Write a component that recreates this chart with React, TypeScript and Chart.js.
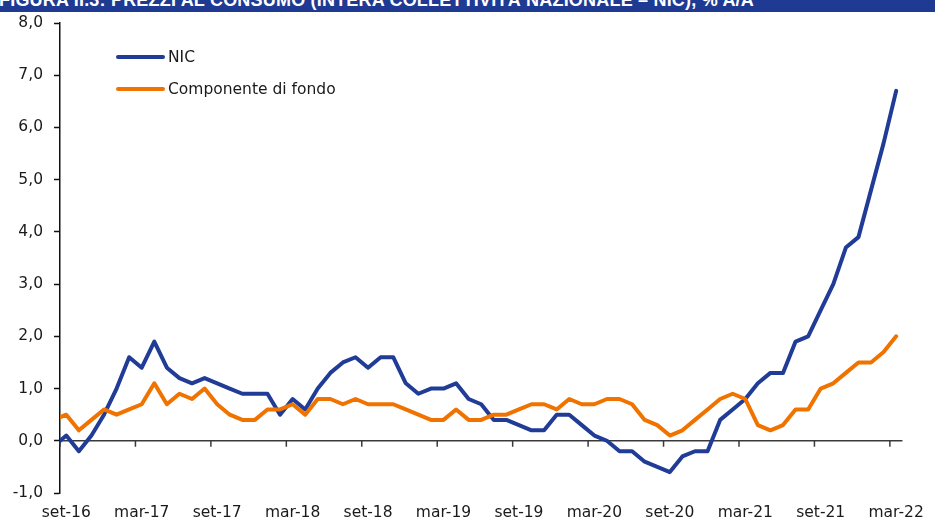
import React, { useEffect, useRef } from 'react';
import { Chart, registerables } from 'chart.js';

Chart.register(...registerables);

const titleText = 'FIGURA II.3: PREZZI AL CONSUMO (INTERA COLLETTIVITÀ NAZIONALE – NIC), % A/A';

const months = [
  'ago-16', 'set-16', 'ott-16', 'nov-16', 'dic-16',
  'gen-17', 'feb-17', 'mar-17', 'apr-17', 'mag-17', 'giu-17', 'lug-17', 'ago-17', 'set-17', 'ott-17', 'nov-17', 'dic-17',
  'gen-18', 'feb-18', 'mar-18', 'apr-18', 'mag-18', 'giu-18', 'lug-18', 'ago-18', 'set-18', 'ott-18', 'nov-18', 'dic-18',
  'gen-19', 'feb-19', 'mar-19', 'apr-19', 'mag-19', 'giu-19', 'lug-19', 'ago-19', 'set-19', 'ott-19', 'nov-19', 'dic-19',
  'gen-20', 'feb-20', 'mar-20', 'apr-20', 'mag-20', 'giu-20', 'lug-20', 'ago-20', 'set-20', 'ott-20', 'nov-20', 'dic-20',
  'gen-21', 'feb-21', 'mar-21', 'apr-21', 'mag-21', 'giu-21', 'lug-21', 'ago-21', 'set-21', 'ott-21', 'nov-21', 'dic-21',
  'gen-22', 'feb-22', 'mar-22',
];

const xTickLabels = [
  'set-16', 'mar-17', 'set-17', 'mar-18', 'set-18', 'mar-19',
  'set-19', 'mar-20', 'set-20', 'mar-21', 'set-21', 'mar-22',
];

const yTickValues = [-1, 0, 1, 2, 3, 4, 5, 6, 7, 8];

const seriesNames = ['NIC', 'Componente di fondo'];

const nicValues = [
  -0.1, 0.1, -0.2, 0.1, 0.5,
  1.0, 1.6, 1.4, 1.9, 1.4, 1.2, 1.1, 1.2, 1.1, 1.0, 0.9, 0.9,
  0.9, 0.5, 0.8, 0.6, 1.0, 1.3, 1.5, 1.6, 1.4, 1.6, 1.6, 1.1,
  0.9, 1.0, 1.0, 1.1, 0.8, 0.7, 0.4, 0.4, 0.3, 0.2, 0.2, 0.5,
  0.5, 0.3, 0.1, 0.0, -0.2, -0.2, -0.4, -0.5, -0.6, -0.3, -0.2, -0.2,
  0.4, 0.6, 0.8, 1.1, 1.3, 1.3, 1.9, 2.0, 2.5, 3.0, 3.7, 3.9,
  4.8, 5.7, 6.7,
];

const coreValues = [
  0.4, 0.5, 0.2, 0.4, 0.6,
  0.5, 0.6, 0.7, 1.1, 0.7, 0.9, 0.8, 1.0, 0.7, 0.5, 0.4, 0.4,
  0.6, 0.6, 0.7, 0.5, 0.8, 0.8, 0.7, 0.8, 0.7, 0.7, 0.7, 0.6,
  0.5, 0.4, 0.4, 0.6, 0.4, 0.4, 0.5, 0.5, 0.6, 0.7, 0.7, 0.6,
  0.8, 0.7, 0.7, 0.8, 0.8, 0.7, 0.4, 0.3, 0.1, 0.2, 0.4, 0.6,
  0.8, 0.9, 0.8, 0.3, 0.2, 0.3, 0.6, 0.6, 1.0, 1.1, 1.3, 1.5,
  1.5, 1.7, 2.0,
];

const BLUE = '#203C97';
const ORANGE = '#F07300';
const NAVY = '#1F3A93';
const TEXT = '#1a1a1a';
const FONT_FAMILY = '"DejaVu Sans", sans-serif';
const FONT_SIZE = 15.5;

const zeroAxisPlugin = {
  id: 'zeroAxis',
  beforeDatasetsDraw(chart: any) {
    const { ctx, chartArea, scales } = chart;
    const x = scales.x;
    const y = scales.y;
    const y0 = y.getPixelForValue(0);
    ctx.save();
    ctx.strokeStyle = '#3a3a3a';
    ctx.lineWidth = 1.5;
    ctx.beginPath();
    ctx.moveTo(chartArea.left, y0);
    ctx.lineTo(chartArea.right, y0);
    xTickLabels.forEach((l) => {
      const px = x.getPixelForValue(months.indexOf(l) - 0.5);
      ctx.moveTo(px, y0);
      ctx.lineTo(px, y0 + 6);
    });
    ctx.stroke();
    ctx.restore();
  },
};

const legendPlugin = {
  id: 'cornerLegend',
  afterDraw(chart: any) {
    const { ctx } = chart;
    ctx.save();
    chart.data.datasets.forEach((ds: any, i: number) => {
      const yy = 57 + i * 32;
      ctx.strokeStyle = ds.borderColor;
      ctx.lineWidth = 4;
      ctx.lineCap = 'round';
      ctx.beginPath();
      ctx.moveTo(118, yy);
      ctx.lineTo(163, yy);
      ctx.stroke();
      ctx.fillStyle = TEXT;
      ctx.font = `${FONT_SIZE}px ${FONT_FAMILY}`;
      ctx.textBaseline = 'middle';
      ctx.textAlign = 'left';
      ctx.fillText(ds.label, 168, yy + 1);
    });
    ctx.restore();
  },
};

export default function App() {
  const canvasRef = useRef<HTMLCanvasElement | null>(null);

  useEffect(() => {
    if (!canvasRef.current) return;
    const chart = new Chart(canvasRef.current, {
      type: 'line',
      data: {
        datasets: [
          {
            label: seriesNames[0],
            data: nicValues.map((v, i) => ({ x: i, y: v })),
            borderColor: BLUE,
            backgroundColor: BLUE,
            borderWidth: 4,
            pointRadius: 0,
            tension: 0,
            borderJoinStyle: 'round',
            borderCapStyle: 'round',
            clip: 0,
            order: 1,
          },
          {
            label: seriesNames[1],
            data: coreValues.map((v, i) => ({ x: i, y: v })),
            borderColor: ORANGE,
            backgroundColor: ORANGE,
            borderWidth: 4,
            pointRadius: 0,
            tension: 0,
            borderJoinStyle: 'round',
            borderCapStyle: 'round',
            clip: 0,
            order: 0,
          },
        ],
      },
      options: {
        animation: false,
        responsive: false,
        maintainAspectRatio: false,
        layout: { padding: { top: 23, right: 25, bottom: 0, left: 0 } },
        plugins: {
          legend: { display: false },
          tooltip: { enabled: false },
        },
        scales: {
          x: {
            type: 'linear',
            min: 0.5,
            max: months.length - 0.5,
            afterBuildTicks: (s: any) => {
              s.ticks = xTickLabels.map((l) => ({ value: months.indexOf(l) }));
            },
            afterFit: (s: any) => {
              s.height = 30;
            },
            grid: { display: false, drawTicks: false },
            border: { display: false },
            ticks: {
              autoSkip: false,
              maxRotation: 0,
              minRotation: 0,
              padding: 11,
              color: TEXT,
              font: { family: FONT_FAMILY, size: FONT_SIZE },
              callback: (v: any) => months[Math.round(v)],
            },
          },
          y: {
            type: 'linear',
            min: -1,
            max: 8,
            afterBuildTicks: (s: any) => {
              s.ticks = yTickValues.map((v) => ({ value: v }));
            },
            afterFit: (s: any) => {
              s.width = 60;
            },
            grid: {
              drawOnChartArea: false,
              drawTicks: true,
              tickLength: 6,
              tickColor: '#111',
              tickWidth: 1.5,
            },
            border: { display: true, color: '#111', width: 1.5 },
            ticks: {
              padding: 11,
              color: TEXT,
              font: { family: FONT_FAMILY, size: FONT_SIZE },
              callback: (v: any) => Number(v).toFixed(1).replace('.', ','),
            },
          },
        },
      },
      plugins: [zeroAxisPlugin, legendPlugin],
    } as any);
    return () => chart.destroy();
  }, []);

  return (
    <div style={{ position: 'fixed', left: 0, top: 0, width: 935, height: 523, background: '#fff' }}>
      <canvas ref={canvasRef} width={935} height={523} style={{ position: 'absolute', left: 0, top: 0 }} />
      <div
        style={{
          position: 'absolute',
          left: 0,
          top: 0,
          width: 935,
          height: 12,
          background: NAVY,
          overflow: 'hidden',
        }}
      >
        <span
          style={{
            position: 'absolute',
            left: -1,
            top: -9,
            whiteSpace: 'nowrap',
            color: '#fff',
            fontFamily: '"Liberation Sans", Arial, sans-serif',
            fontWeight: 'bold',
            fontSize: 18,
            lineHeight: '18px',
            letterSpacing: '0.2px',
          }}
        >
          {titleText}
        </span>
      </div>
    </div>
  );
}
